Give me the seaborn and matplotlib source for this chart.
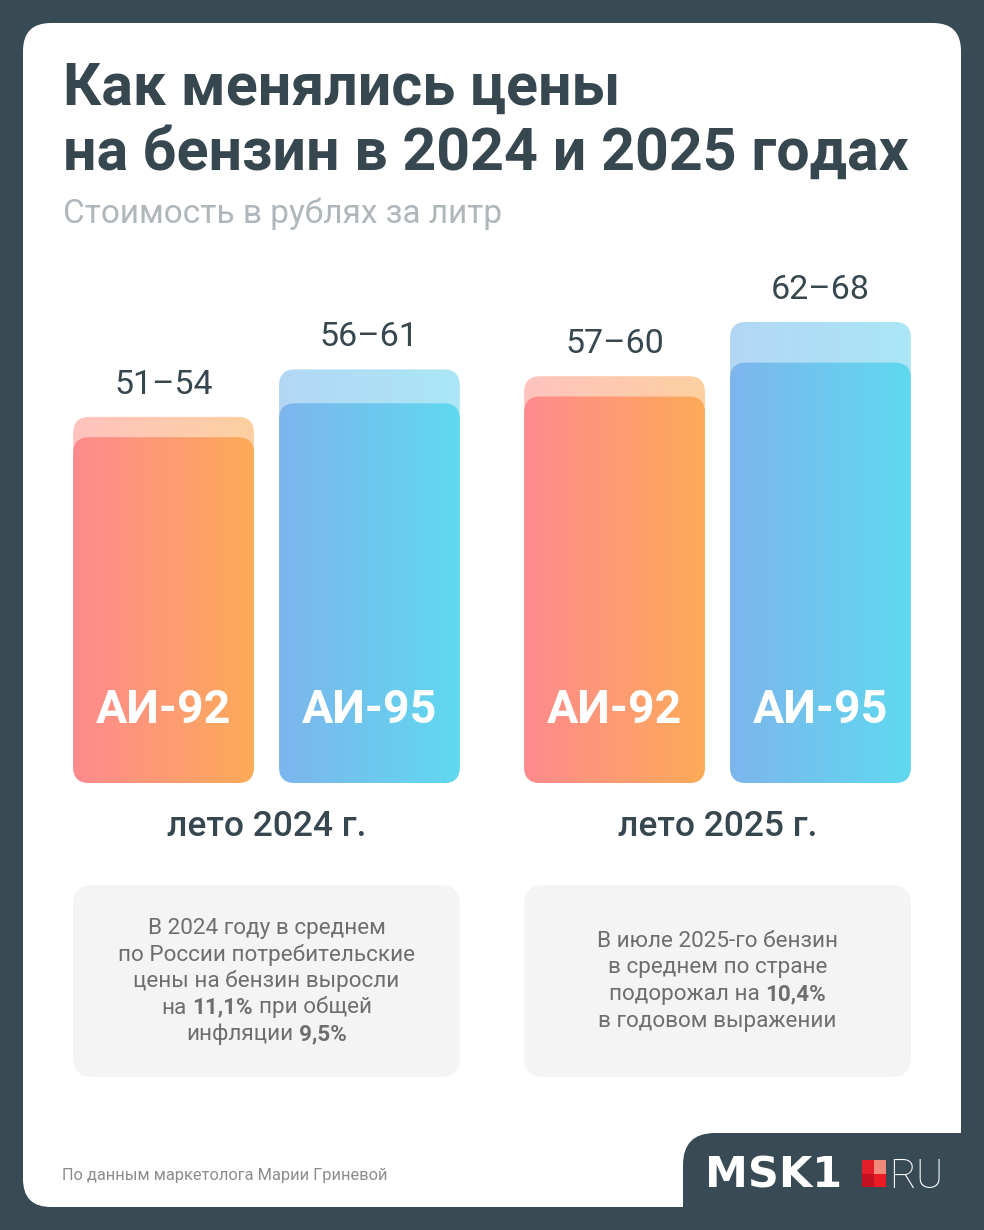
import numpy as np
import pandas as pd
import matplotlib
matplotlib.use('Agg')
import matplotlib.pyplot as plt
import seaborn as sns
from matplotlib.patches import FancyBboxPatch, Rectangle
from matplotlib.colors import LinearSegmentedColormap

# данные: цены на бензин, руб. за литр
periods = ['лето 2024 г.', 'лето 2025 г.']
fuels = ['АИ-92', 'АИ-95']
low_92 = [51, 57]
high_92 = [54, 60]
low_95 = [56, 62]
high_95 = [61, 68]

df = pd.DataFrame({
    'period': periods * 2,
    'fuel': [fuels[0]] * 2 + [fuels[1]] * 2,
    'low': low_92 + low_95,
    'high': high_92 + high_95,
})

BG = '#384a54'
DARK = '#37474f'
GREY_TXT = '#6e6e6e'
# градиенты: (основной, светлый верх)
grad = {
    'АИ-92': (('#ff8a8e', '#fcab58'), ('#ffc3bf', '#fdd0a0')),
    'АИ-95': (('#7db5ec', '#5fd9f0'), ('#b3d7f5', '#aae7f6')),
}

sns.set_theme(style='white')
plt.rcParams['font.family'] = ['Roboto', 'DejaVu Sans']

W, H = 984, 1230
fig = plt.figure(figsize=(W / 100, H / 100), dpi=100)
fig.patch.set_facecolor(BG)

# фон в пиксельных координатах
bg = fig.add_axes([0, 0, 1, 1])
bg.set_xlim(0, W)
bg.set_ylim(H, 0)
bg.axis('off')

bg.add_patch(FancyBboxPatch((23, 23), 938, 1184, boxstyle='round,pad=0,rounding_size=28',
                            facecolor='white', edgecolor='none'))
bg.add_patch(FancyBboxPatch((683, 1133), 360, 160, boxstyle='round,pad=0,rounding_size=32',
                            facecolor=BG, edgecolor='none'))
for bx in (73, 524):
    bg.add_patch(FancyBboxPatch((bx, 885), 387, 192, boxstyle='round,pad=0,rounding_size=20',
                                facecolor='#f4f4f5', edgecolor='none'))

# заголовки
bg.text(63, 105, 'Как менялись цены', fontsize=42.6, weight='bold', color=DARK, va='baseline')
bg.text(63, 170, 'на бензин в 2024 и 2025 годах', fontsize=42.6, weight='bold', color=DARK,
        va='baseline')
bg.text(63, 223, 'Стоимость в рублях за литр', fontsize=24, color='#afb7bb', va='baseline')
bg.text(62, 1180, 'По данным маркетолога Марии Гриневой', fontsize=11.8, color='#8c8c8c',
        va='baseline')

# логотип
bg.text(705, 1188, 'MSK1', fontsize=31, weight='heavy', family='DejaVu Sans', color='white',
        va='baseline')
for (sx, sy, c) in [(862, 1160, '#e3202a'), (874, 1160, '#f28a7c'),
                    (862, 1173.5, '#c5101f'), (874, 1173.5, '#ec1a22')]:
    bg.add_patch(Rectangle((sx, sy), 12, 13.5, facecolor=c, edgecolor='none'))
bg.text(889, 1188, 'RU', fontsize=29.5, weight='light', color='white', va='baseline')

# столбцы
top_px, base_px = 290, 783
ax = fig.add_axes([0, (H - base_px) / H, 1, (base_px - top_px) / H])
ax.patch.set_alpha(0)
sns.barplot(data=df, x='period', y='high', hue='fuel', order=periods, hue_order=fuels,
            width=0.913, gap=0.122, errorbar=None, legend=False, ax=ax)
sns.barplot(data=df, x='period', y='low', hue='fuel', order=periods, hue_order=fuels,
            width=0.913, gap=0.122, errorbar=None, legend=False, ax=ax)
x_lo = -266.5 / 451
x_hi = x_lo + W / 451
y_top = (base_px - top_px) / 6.78
ax.set_xlim(x_lo, x_hi)
ax.set_ylim(0, y_top)
ax.axis('off')

px_x = W / (x_hi - x_lo)
px_y = (base_px - top_px) / y_top
asp = px_x / px_y
r = 16 / px_x

centers = {}
for ci, container in enumerate(ax.containers):
    fuel = fuels[ci % 2]
    light = ci < 2
    cols = grad[fuel][1] if light else grad[fuel][0]
    cmap = LinearSegmentedColormap.from_list('g', cols)
    for k, bar in enumerate(container):
        x0, w, h = bar.get_x(), bar.get_width(), bar.get_height()
        bar.set_visible(False)
        centers[(fuel, k)] = x0 + w / 2
        clip = FancyBboxPatch((x0, 0), w, h, boxstyle=f'round,pad=0,rounding_size={r}',
                              mutation_aspect=asp, facecolor='none', edgecolor='none')
        ax.add_patch(clip)
        im = ax.imshow(np.linspace(0, 1, 256).reshape(1, -1), extent=[x0, x0 + w, 0, h],
                       cmap=cmap, aspect='auto', origin='lower', interpolation='bicubic',
                       zorder=2 if light else 3)
        im.set_clip_path(clip)
ax.set_xlim(x_lo, x_hi)
ax.set_ylim(0, y_top)

for _, row in df.iterrows():
    k = periods.index(row['period'])
    cx = centers[(row['fuel'], k)]
    ax.annotate(f"{row['low']}–{row['high']}", xy=(cx, row['high']), xytext=(0, 23 * 0.72),
                textcoords='offset points', ha='center', va='baseline', fontsize=24.5,
                color=DARK, annotation_clip=False)
    ax.annotate(row['fuel'], xy=(cx, 0), xytext=(0, 60 * 0.72), textcoords='offset points',
                ha='center', va='baseline', fontsize=33.5, weight='bold', color='white',
                zorder=6, annotation_clip=False)

for i, p in enumerate(periods):
    ax.annotate(p, xy=(i, 0), xytext=(0, -53 * 0.72), textcoords='offset points',
                ha='center', va='baseline', fontsize=25.5, weight='medium', color=DARK,
                annotation_clip=False)

# текст в плашках
box1_lines = [
    [('В 2024 году в среднем', False)],
    [('по России потребительские', False)],
    [('цены на бензин выросли', False)],
    [('на', False), ('11,1%', True), ('при общей', False)],
    [('инфляции', False), ('9,5%', True)],
]
box2_lines = [
    [('В июле 2025-го бензин', False)],
    [('в среднем по стране', False)],
    [('подорожал на', False), ('10,4%', True)],
    [('в годовом выражении', False)],
]

renderer = fig.canvas.get_renderer()
BOX_FS = 16.2
t1 = bg.text(0, 0, 'н н', fontsize=BOX_FS)
t2 = bg.text(0, 0, 'нн', fontsize=BOX_FS)
space = t1.get_window_extent(renderer).width - t2.get_window_extent(renderer).width
t1.remove()
t2.remove()


def rich_line(segs, cx, y):
    texts = [bg.text(0, y, s, fontsize=BOX_FS, weight='bold' if b else 'normal',
                     color=GREY_TXT, va='baseline', ha='left') for s, b in segs]
    widths = [t.get_window_extent(renderer).width for t in texts]
    x = cx - (sum(widths) + space * (len(texts) - 1)) / 2
    for t, w in zip(texts, widths):
        t.set_x(x)
        x += w + space


for n, segs in enumerate(box1_lines):
    rich_line(segs, 266.5, 934 + 26.5 * n)
for n, segs in enumerate(box2_lines):
    rich_line(segs, 717.5, 947 + 26.5 * n)

fig.savefig('out.png', dpi=100, facecolor=BG)
